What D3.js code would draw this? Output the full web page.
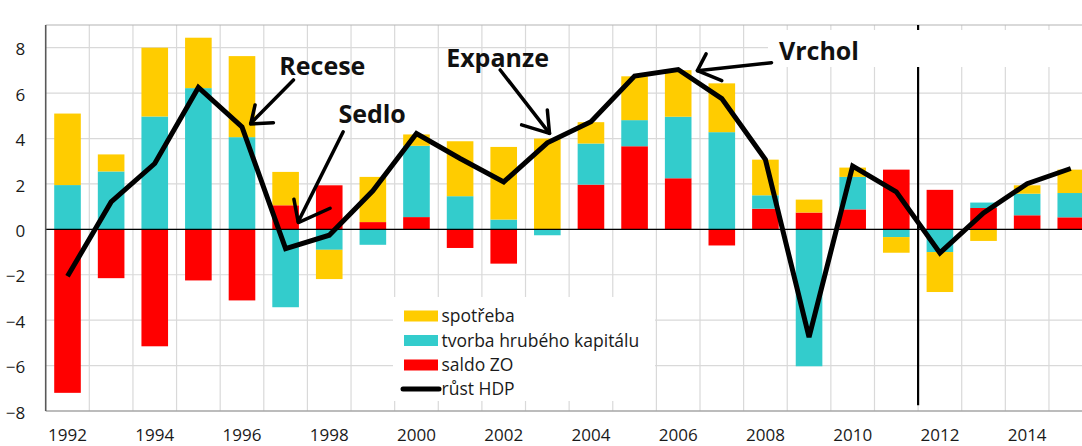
<!DOCTYPE html>
<html>
<head>
<meta charset="utf-8">
<script src="https://cdn.jsdelivr.net/npm/d3@7"></script>
<style>
  body { margin: 0; background: #fff; }
  svg { display: block; font-family: "Open Sans", sans-serif; }
</style>
</head>
<body>
<div id="chart"></div>
<script>
// data (percentage points)
var years = [1992, 1993, 1994, 1995, 1996, 1997, 1998, 1999, 2000, 2001, 2002, 2003,
             2004, 2005, 2006, 2007, 2008, 2009, 2010, 2011, 2012, 2013, 2014, 2015];
var spotreba = [3.15, 0.75, 3.03, 2.22, 3.57, 1.47, -1.29, 1.99, 0.5, 2.42, 3.2, 4.0,
                0.94, 1.93, 2.05, 2.15, 1.57, 0.57, 0.41, -0.69, -1.76, -0.51, 0.37, 1.03];
var tvorba = [1.95, 2.55, 4.97, 6.22, 4.06, -3.43, -0.9, -0.68, 3.14, 1.46, 0.43, -0.26,
              1.81, 1.15, 2.71, 4.28, 0.59, -6.03, 1.43, -0.34, -1.0, 0.24, 0.95, 1.07];
var saldo = [-7.2, -2.15, -5.15, -2.25, -3.13, 1.06, 1.94, 0.32, 0.54, -0.82, -1.51, 0,
             1.97, 3.66, 2.25, -0.71, 0.91, 0.74, 0.88, 2.63, 1.74, 0.94, 0.62, 0.53];
var hdp = [-2.07, 1.21, 2.9, 6.25, 4.51, -0.85, -0.26, 1.7, 4.22, 3.12, 2.09, 3.81,
           4.74, 6.75, 7.04, 5.76, 3.07, -4.75, 2.79, 1.65, -1.04, 0.72, 2.01, 2.68];

var yTicks = [-8, -6, -4, -2, 0, 2, 4, 6, 8];
var xTicks = [1992, 1994, 1996, 1998, 2000, 2002, 2004, 2006, 2008, 2010, 2012, 2014];

var seriesNames = ["spotřeba", "tvorba hrubého kapitálu", "saldo ZO", "růst HDP"];

// hand drawn annotations, in (year, value) units
var labels = [
  { text: "Recese", x: 1996.855, y: 6.8 },
  { text: "Sedlo", x: 1998.21, y: 4.67 },
  { text: "Expanze", x: 2000.68, y: 7.17 },
  { text: "Vrchol", x: 2008.31, y: 7.46 }
];
var arrows = [
  [[1997.18, 6.58], [1996.2, 4.67]],
  [[1996.3, 5.48], [1996.2, 4.64], [1996.72, 4.7]],
  [[1998.32, 4.3], [1997.29, 0.34]],
  [[1997.19, 1.33], [1997.29, 0.3], [1998.02, 0.93]],
  [[2001.92, 7.02], [2003.05, 4.23]],
  [[2003.0, 5.26], [2003.05, 4.23], [2002.41, 4.6]],
  [[2008.14, 7.34], [2006.44, 6.99]],
  [[2006.64, 7.73], [2006.44, 6.99], [2007.0, 6.55]]
];

function drawChart() {
  var width = 1082, height = 446;
  var plotLeft = 45.7, step = 43.62, plotTop = 25, plotBottom = 411;

  var svg = d3.select("#chart").append("svg")
    .attr("width", width)
    .attr("height", height);

  var x = d3.scaleBand()
    .domain(years)
    .range([plotLeft, plotLeft + step * years.length])
    .paddingInner(0.39)
    .paddingOuter(0.195);

  var xl = d3.scaleLinear()
    .domain([1991.5, 1991.5 + years.length])
    .range([plotLeft, plotLeft + step * years.length]);

  var y = d3.scaleLinear()
    .domain([-8, 9])
    .range([plotBottom, plotTop]);

  // gridlines
  var grid = svg.append("g").attr("stroke", "#d9d9d9").attr("stroke-width", 1.2);
  grid.selectAll(".hg")
    .data(yTicks.filter(d => d > -8))
    .enter().append("line")
    .attr("x1", plotLeft).attr("x2", width)
    .attr("y1", d => y(d)).attr("y2", d => y(d));
  grid.selectAll(".vg")
    .data(years.slice(0, -1))
    .enter().append("line")
    .attr("x1", d => xl(d + 0.5)).attr("x2", d => xl(d + 0.5))
    .attr("y1", plotTop).attr("y2", plotBottom);

  // top border
  svg.append("line")
    .attr("x1", plotLeft).attr("x2", width)
    .attr("y1", plotTop).attr("y2", plotTop)
    .attr("stroke", "#b3b3b3").attr("stroke-width", 1.2);

  // stacked bars
  var table = years.map(function (yr, i) {
    return { year: yr, saldo: saldo[i], tvorba: tvorba[i], spotreba: spotreba[i] };
  });
  var keys = ["saldo", "tvorba", "spotreba"];
  var colors = { spotreba: "#ffcc00", tvorba: "#33cccc", saldo: "#ff0000" };

  var stacked = d3.stack().keys(keys).offset(d3.stackOffsetDiverging)(table);

  svg.append("g").selectAll("g")
    .data(stacked)
    .enter().append("g")
    .attr("fill", d => colors[d.key])
    .selectAll("rect")
    .data(d => d)
    .enter().append("rect")
    .attr("x", d => x(d.data.year))
    .attr("width", x.bandwidth())
    .attr("y", d => y(Math.max(d[0], d[1])))
    .attr("height", d => Math.abs(y(d[0]) - y(d[1])));

  // zero line
  svg.append("line")
    .attr("x1", plotLeft).attr("x2", width)
    .attr("y1", y(0)).attr("y2", y(0))
    .attr("stroke", "#000").attr("stroke-width", 1.2);

  // 2011/2012 divider
  svg.append("line")
    .attr("x1", xl(2011.5)).attr("x2", xl(2011.5))
    .attr("y1", plotTop).attr("y2", y(-7.75))
    .attr("stroke", "#000").attr("stroke-width", 2.2);

  // white text box behind "Vrchol"
  svg.append("rect")
    .attr("x", 768).attr("y", 30)
    .attr("width", width - 768).attr("height", 37)
    .attr("fill", "#fff");

  // axes
  svg.append("line")
    .attr("x1", plotLeft).attr("x2", width)
    .attr("y1", plotBottom).attr("y2", plotBottom)
    .attr("stroke", "#a6a6a6").attr("stroke-width", 1.6);
  svg.append("line")
    .attr("x1", plotLeft).attr("x2", plotLeft)
    .attr("y1", plotTop).attr("y2", plotBottom)
    .attr("stroke", "#595959").attr("stroke-width", 1.6);

  var yAxis = svg.append("g")
    .attr("transform", `translate(${plotLeft},0)`)
    .call(d3.axisLeft(y).tickValues(yTicks).tickSize(0).tickPadding(20.5).tickFormat(d3.format("d")));
  yAxis.select(".domain").remove();
  yAxis.selectAll("text")
    .attr("dy", "0.42em")
    .style("font-family", "'Open Sans', sans-serif")
    .style("font-size", "17px")
    .attr("fill", "#1a1a1a");

  var xAxis = svg.append("g")
    .attr("transform", `translate(0,${plotBottom})`)
    .call(d3.axisBottom(x).tickValues(xTicks).tickSize(0).tickPadding(18));
  xAxis.select(".domain").remove();
  xAxis.selectAll("text")
    .style("font-family", "'Open Sans', sans-serif")
    .style("font-size", "17px")
    .attr("fill", "#1a1a1a");

  // GDP growth line
  var line = d3.line()
    .x((d, i) => x(years[i]) + x.bandwidth() / 2)
    .y(d => y(d));

  svg.append("path")
    .datum(hdp)
    .attr("d", line)
    .attr("fill", "none")
    .attr("stroke", "#000")
    .attr("stroke-width", 5)
    .attr("stroke-linejoin", "miter");

  // legend
  var legend = svg.append("g");
  legend.append("rect")
    .attr("x", 393).attr("y", 297)
    .attr("width", 262).attr("height", 104)
    .attr("fill", "#fff");

  var rowY = [316, 340.5, 365, 389];
  var legendColors = [colors.spotreba, colors.tvorba, colors.saldo];
  seriesNames.forEach(function (name, i) {
    if (i < 3) {
      legend.append("rect")
        .attr("x", 404).attr("y", rowY[i] - 5.5)
        .attr("width", 34).attr("height", 11)
        .attr("fill", legendColors[i]);
    } else {
      legend.append("line")
        .attr("x1", 403).attr("x2", 439)
        .attr("y1", rowY[i]).attr("y2", rowY[i])
        .attr("stroke", "#000").attr("stroke-width", 5)
        .attr("stroke-linecap", "round");
    }
    legend.append("text")
      .attr("x", 441.5).attr("y", rowY[i])
      .attr("dy", "0.36em")
      .style("font-size", "17.5px")
      .attr("fill", "#1a1a1a")
      .text(name);
  });

  // annotations
  svg.append("g").selectAll("path")
    .data(arrows)
    .enter().append("path")
    .attr("d", d3.line().x(d => xl(d[0])).y(d => y(d[1])))
    .attr("fill", "none")
    .attr("stroke", "#000")
    .attr("stroke-width", 3.5)
    .attr("stroke-linecap", "round")
    .attr("stroke-linejoin", "round");

  svg.append("g").selectAll("text")
    .data(labels)
    .enter().append("text")
    .attr("x", d => xl(d.x))
    .attr("y", d => y(d.y))
    .style("font-size", "25px")
    .style("font-weight", "bold")
    .attr("fill", "#111")
    .text(d => d.text);
}

drawChart();
</script>
</body>
</html>
